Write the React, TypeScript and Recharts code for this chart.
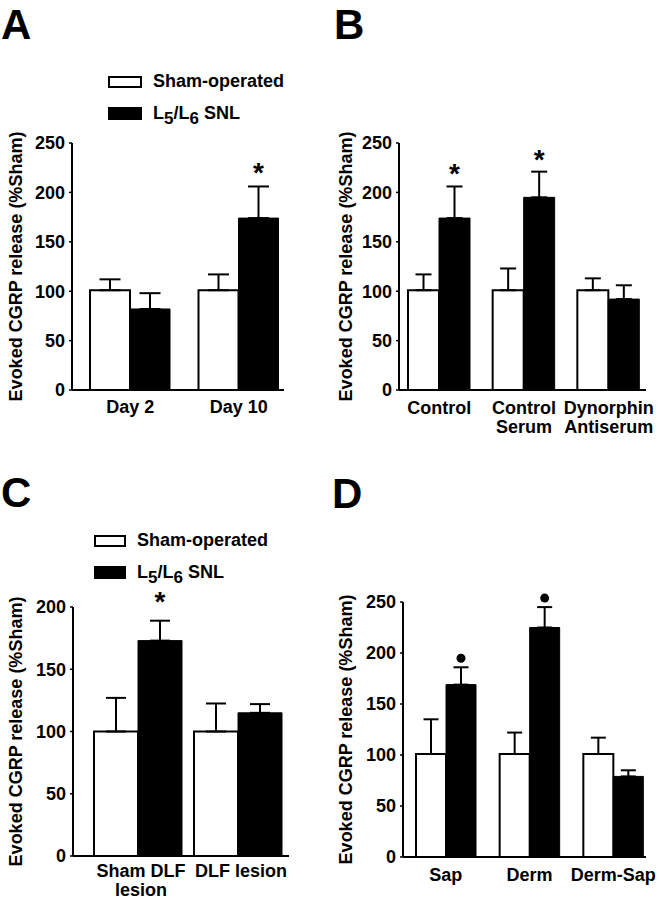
import React from 'react';
import { BarChart, Bar, XAxis, YAxis, ErrorBar, LabelList, Legend, Label } from 'recharts';

const FONT = '"Liberation Sans", Arial, Helvetica, sans-serif';

const seriesNames = ['Sham-operated', 'L5/L6 SNL'];
const yTitle = 'Evoked CGRP release (%Sham)';
const ticks250 = [0, 50, 100, 150, 200, 250];
const ticks200 = [0, 50, 100, 150, 200];

// panel A
const catsA = ['Day 2', 'Day 10'];
const shamA = [101, 101];
const shamErrA = [11, 16];
const snlA = [82, 174];
const snlErrA = [16, 32];
const sigA = ['', '*'];

// panel B
const catsB = ['Control', 'Control\nSerum', 'Dynorphin\nAntiserum'];
const shamB = [101, 101, 101];
const shamErrB = [16, 22, 12];
const snlB = [174, 195, 92];
const snlErrB = [32, 26, 14];
const sigB = ['*', '*', ''];

// panel C
const catsC = ['Sham DLF\nlesion', 'DLF lesion'];
const shamC = [100, 100];
const shamErrC = [27, 22.5];
const snlC = [173, 115];
const snlErrC = [16, 7];
const sigC = ['*', ''];

// panel D
const catsD = ['Sap', 'Derm', 'Derm-Sap'];
const shamD = [101, 101, 101];
const shamErrD = [34, 21, 16];
const snlD = [169, 225, 79];
const snlErrD = [17, 20, 6];
const sigD = ['•', '•', ''];

const buildRows = (cats: string[], sham: number[], shamErr: number[], snl: number[], snlErr: number[]) =>
  cats.map((name, i) => ({
    name,
    sham: sham[i],
    shamErr: [0, shamErr[i]],
    snl: snl[i],
    snlErr: [0, snlErr[i]],
  }));

const fmtName = (s: string) =>
  s.split(/(\d)/).map((part, i) =>
    i % 2 === 1 ? (
      <span key={i} style={{ position: 'relative', top: 5, fontSize: 17 }}>{part}</span>
    ) : (
      <span key={i}>{part}</span>
    )
  );

const LegendBox = ({ payload, boxW }: any) => {
  const items = (payload || [])
    .slice()
    .sort((a: any, b: any) => seriesNames.indexOf(a.value) - seriesNames.indexOf(b.value));
  return (
    <div style={{ fontFamily: FONT, fontWeight: 700, fontSize: 18, color: '#000' }}>
      {items.map((e: any, i: number) => (
        <div key={i} style={{ display: 'flex', alignItems: 'center', height: 31.5 }}>
          <span
            style={{
              display: 'inline-block',
              width: boxW,
              height: 12.5,
              boxSizing: 'border-box',
              border: '2px solid #000',
              background: e.color,
              marginRight: 11,
            }}
          />
          <span>{fmtName(String(e.value))}</span>
        </div>
      ))}
    </div>
  );
};

const YTitle = ({ viewBox }: any) => {
  const cx = 16;
  const cy = viewBox.y + viewBox.height / 2;
  return (
    <text
      x={cx}
      y={cy}
      transform={`rotate(-90 ${cx} ${cy})`}
      textAnchor="middle"
      dominantBaseline="central"
      fontSize={18}
      fontWeight={700}
      fontFamily={FONT}
      fill="#000"
    >
      {yTitle}
    </text>
  );
};

const CatTick = ({ x, y, payload, dy, dx }: any) => {
  const lines = String(payload.value).split('\n');
  return (
    <text x={x + dx} y={y + dy} textAnchor="middle" fontSize={18} fontWeight={700} fontFamily={FONT} fill="#000">
      {lines.map((l, i) => (
        <tspan key={i} x={x + dx} dy={i === 0 ? 0 : 19}>
          {l}
        </tspan>
      ))}
    </text>
  );
};

const SigMark = (p: any) => {
  const { sig, err, marker, gap, index, value } = p;
  const vb = p.viewBox || p;
  const s = sig[index];
  if (!s) return null;
  const top = vb.y - (err[index] * vb.height) / value;
  const cx = vb.x + vb.width / 2;
  if (marker === 'dot') return <circle cx={cx} cy={top - gap} r={4.5} fill="#000" />;
  return (
    <text x={cx} y={top - gap} textAnchor="middle" fontSize={28} fontWeight={700} fontFamily={FONT} fill="#000">
      {s}
    </text>
  );
};

const Panel = ({
  left, top, width, height, margin, data, sig, snlErr, domain, ticks, padding,
  barSize, capWidth, legend, marker, sigGap, tickDy, tickDx,
}: any) => (
  <div style={{ position: 'absolute', left, top }}>
    <BarChart width={width} height={height} data={data} margin={margin} barGap={0}>
      <XAxis
        dataKey="name"
        height={30}
        padding={padding}
        interval={0}
        axisLine={{ stroke: '#000', strokeWidth: 2 }}
        tickLine={false}
        tickSize={0}
        tickMargin={0}
        tick={(t: any) => <CatTick {...t} dy={tickDy} dx={tickDx} />}
      />
      <YAxis
        width={60}
        domain={domain}
        ticks={ticks}
        interval={0}
        axisLine={{ stroke: '#000', strokeWidth: 2 }}
        tickLine={{ stroke: '#000', strokeWidth: 1.5 }}
        tickSize={3}
        tickMargin={4}
        tick={{ fill: '#000', fontSize: 18, fontWeight: 700, fontFamily: FONT }}
      >
        <Label content={(p: any) => <YTitle {...p} />} />
      </YAxis>
      {legend && (
        <Legend
          layout="vertical"
          align="center"
          verticalAlign="middle"
          wrapperStyle={{ left: legend.left, top: legend.top, width: 'auto', height: 'auto' }}
          content={(p: any) => <LegendBox {...p} boxW={legend.boxW} />}
        />
      )}
      <Bar dataKey="sham" name={seriesNames[0]} fill="#fff" stroke="#000" strokeWidth={2} barSize={barSize} isAnimationActive={false}>
        <ErrorBar dataKey="shamErr" direction="y" width={capWidth} stroke="#000" strokeWidth={2} isAnimationActive={false} />
      </Bar>
      <Bar dataKey="snl" name={seriesNames[1]} fill="#000" stroke="#000" strokeWidth={1} barSize={barSize} isAnimationActive={false}>
        <ErrorBar dataKey="snlErr" direction="y" width={capWidth} stroke="#000" strokeWidth={2} isAnimationActive={false} />
        <LabelList
          dataKey="snl"
          content={(p: any) => <SigMark {...p} sig={sig} err={snlErr} marker={marker} gap={sigGap} />}
        />
      </Bar>
    </BarChart>
  </div>
);

const Letters = () => (
  <svg width={659} height={899} style={{ position: 'absolute', left: 0, top: 0, pointerEvents: 'none' }}>
    <g fontFamily={FONT} fontWeight={700} fontSize={42} fill="#000">
      <text x={1} y={38.5}>A</text>
      <text x={334} y={38.5}>B</text>
      <text x={1} y={507}>C</text>
      <text x={332} y={508}>D</text>
    </g>
  </svg>
);

export default function App() {
  return (
    <div style={{ position: 'absolute', left: 0, top: 0, width: 659, height: 899, background: '#fff', fontFamily: FONT }}>
      <Panel
        left={0}
        top={0}
        width={330}
        height={440}
        margin={{ top: 143, right: 46, bottom: 20, left: 12 }}
        data={buildRows(catsA, shamA, shamErrA, snlA, snlErrA)}
        sig={sigA}
        snlErr={snlErrA}
        domain={[0, 250]}
        ticks={ticks250}
        padding={{ left: 4, right: -9 }}
        barSize={40}
        capWidth={10.5}
        legend={{ left: 108, top: 66, boxW: 34 }}
        marker="text"
        sigGap={4}
        tickDy={23}
        tickDx={0}
      />
      <Panel
        left={330}
        top={0}
        width={329}
        height={440}
        margin={{ top: 143, right: 13, bottom: 20, left: 9 }}
        data={buildRows(catsB, shamB, shamErrB, snlB, snlErrB)}
        sig={sigB}
        snlErr={snlErrB}
        domain={[0, 250]}
        ticks={ticks250}
        padding={{ left: -2, right: -5 }}
        barSize={31}
        capWidth={8}
        legend={null}
        marker="text"
        sigGap={3}
        tickDy={24}
        tickDx={0}
      />
      <Panel
        left={0}
        top={440}
        width={330}
        height={459}
        margin={{ top: 167, right: 41, bottom: 13, left: 13 }}
        data={buildRows(catsC, shamC, shamErrC, snlC, snlErrC)}
        sig={sigC}
        snlErr={snlErrC}
        domain={[0, 200]}
        ticks={ticks200}
        padding={{ left: 15, right: 1 }}
        barSize={44}
        capWidth={10}
        legend={{ left: 94, top: 85, boxW: 32 }}
        marker="text"
        sigGap={10}
        tickDy={21}
        tickDx={3}
      />
      <Panel
        left={330}
        top={440}
        width={329}
        height={459}
        margin={{ top: 162, right: 13, bottom: 12, left: 13 }}
        data={buildRows(catsD, shamD, shamErrD, snlD, snlErrD)}
        sig={sigD}
        snlErr={snlErrD}
        domain={[0, 250]}
        ticks={ticks250}
        padding={{ left: 1, right: -9 }}
        barSize={30}
        capWidth={7.5}
        legend={null}
        marker="dot"
        sigGap={9}
        tickDy={24}
        tickDx={0}
      />
      <Letters />
    </div>
  );
}
